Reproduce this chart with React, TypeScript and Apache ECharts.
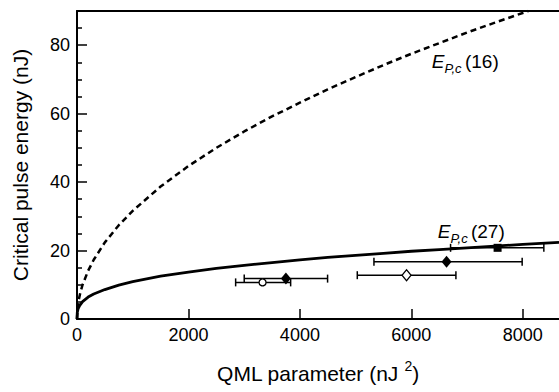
import React, { useEffect, useRef } from "react";
import * as echarts from "echarts";

const xTicks = [0, 2000, 4000, 6000, 8000];
const yTicks = [0, 20, 40, 60, 80];
const yMinorTicks = [5, 10, 15, 25, 30, 35, 45, 50, 55, 65, 70, 75, 85];

// E_P,c (16) dashed curve
const dashedX = [0, 10, 30, 60, 100, 200, 300, 500, 750, 1000, 1500, 2000, 2500, 3000, 3500, 4000, 4500, 5000, 5500, 6000, 6500, 7000, 7500, 8100];
const dashedY = [0, 3.2, 5.5, 7.7, 10, 14.1, 17.3, 22.4, 27.4, 31.6, 38.7, 44.7, 50, 54.8, 59.2, 63.2, 67.1, 70.7, 74.2, 77.5, 80.6, 83.7, 86.6, 90];

// E_P,c (27) solid curve
const solidX = [0, 5, 20, 50, 100, 200, 300, 500, 750, 1000, 1500, 2000, 2500, 3000, 3500, 4000, 4500, 5000, 5500, 6000, 6500, 7000, 7500, 8000, 8650];
const solidY = [0, 1.9, 3.0, 4.0, 5.1, 6.4, 7.3, 8.6, 9.9, 10.9, 12.5, 13.7, 14.8, 15.7, 16.5, 17.3, 18.0, 18.6, 19.2, 19.8, 20.3, 20.8, 21.3, 21.8, 22.4];

// measured points
const filledDiamondX = [3749, 6632];
const filledDiamondY = [11.8, 16.7];
const filledDiamondLo = [3001, 5329];
const filledDiamondHi = [4497, 7989];

const openCircleX = [3330];
const openCircleY = [10.7];
const openCircleLo = [2847];
const openCircleHi = [3834];

const openDiamondX = [5914];
const openDiamondY = [12.8];
const openDiamondLo = [5030];
const openDiamondHi = [6800];

const squareX = [7548];
const squareY = [20.8];
const squareLo = [6704];
const squareHi = [8378];

const labelPos16 = [6368, 75.2];
const labelPos27 = [6476, 25.5];

const FONT = "Liberation Sans, Arial, Helvetica, sans-serif";

export default function App() {
  const ref = useRef<HTMLDivElement>(null);
  useEffect(() => {
    if (!ref.current) return;
    const chart = echarts.init(ref.current, undefined, { renderer: "svg" });
    const zip = (a: number[], b: number[]) => a.map((v, i) => [v, b[i]]);
    const errData = [
      ...filledDiamondX.map((x, i) => [x, filledDiamondY[i], filledDiamondLo[i], filledDiamondHi[i]]),
      ...openCircleX.map((x, i) => [x, openCircleY[i], openCircleLo[i], openCircleHi[i]]),
      ...openDiamondX.map((x, i) => [x, openDiamondY[i], openDiamondLo[i], openDiamondHi[i]]),
      ...squareX.map((x, i) => [x, squareY[i], squareLo[i], squareHi[i]]),
    ];
    const richLabel = {
      e: { fontFamily: FONT, fontSize: 19, fontStyle: "italic", color: "#000", verticalAlign: "middle", lineHeight: 26 },
      s: { fontFamily: FONT, fontSize: 13, fontStyle: "italic", color: "#000", verticalAlign: "bottom", lineHeight: 26 },
      n: { fontFamily: FONT, fontSize: 19, color: "#000", verticalAlign: "middle", lineHeight: 26 },
    };
    const option: any = {
      animation: false,
      textStyle: { fontFamily: FONT, color: "#000" },
      grid: { left: 77, top: 11, right: 0, bottom: 71 },
      xAxis: [
        {
          type: "value",
          min: 0,
          max: 8650,
          interval: 2000,
          position: "bottom",
          axisLine: { show: true, onZero: false, lineStyle: { color: "#000", width: 2 } },
          axisTick: { show: true, inside: true, length: 10, customValues: xTicks, lineStyle: { color: "#000", width: 1.5 } },
          axisLabel: {
            customValues: xTicks,
            formatter: (v: number) => String(v),
            color: "#000",
            fontSize: 18,
            margin: 7,
            fontFamily: FONT,
          },
          splitLine: { show: false },
          name: "QML parameter (nJ {sup|2})",
          nameLocation: "middle",
          nameGap: 40,
          nameTextStyle: {
            fontFamily: FONT,
            fontSize: 21,
            color: "#000",
            lineHeight: 28,
            rich: {
              sup: { fontFamily: FONT, fontSize: 14, color: "#000", verticalAlign: "top", lineHeight: 28 },
            },
          },
        },
        {
          type: "value",
          min: 0,
          max: 8650,
          position: "top",
          axisLine: { show: true, onZero: false, lineStyle: { color: "#000", width: 2 } },
          axisTick: { show: false },
          axisLabel: { show: false },
          splitLine: { show: false },
        },
      ],
      yAxis: [
        {
          type: "value",
          min: 0,
          max: 90,
          interval: 20,
          position: "left",
          axisLine: { show: true, onZero: false, lineStyle: { color: "#000", width: 2 } },
          axisTick: { show: true, inside: true, length: 10, customValues: yTicks, lineStyle: { color: "#000", width: 1.5 } },
          axisLabel: {
            customValues: yTicks,
            formatter: (v: number) => String(v),
            color: "#000",
            fontSize: 18,
            margin: 7,
            fontFamily: FONT,
          },
          splitLine: { show: false },
          name: "Critical pulse energy (nJ)",
          nameLocation: "middle",
          nameGap: 46,
          nameTextStyle: { fontFamily: FONT, fontSize: 21, color: "#000" },
        },
        {
          type: "value",
          min: 0,
          max: 90,
          position: "left",
          axisLine: { show: false, onZero: false },
          axisTick: { show: true, inside: true, length: 5, customValues: yMinorTicks, lineStyle: { color: "#000", width: 1.5 } },
          axisLabel: { show: false },
          splitLine: { show: false },
        },
      ],
      series: [
        {
          type: "line",
          data: zip(dashedX, dashedY),
          showSymbol: false,
          smooth: false,
          lineStyle: { color: "#000", width: 2.5, type: [6, 4] },
          silent: true,
        },
        {
          type: "line",
          data: zip(solidX, solidY),
          showSymbol: false,
          smooth: false,
          lineStyle: { color: "#000", width: 2.8 },
          silent: true,
        },
        {
          type: "custom",
          data: errData,
          encode: { x: [0, 2, 3], y: 1 },
          renderItem: (params: any, api: any) => {
            const y = api.value(1);
            const lo = api.coord([api.value(2), y]);
            const hi = api.coord([api.value(3), y]);
            const h = 4;
            const st = { stroke: "#000", lineWidth: 1.5 };
            return {
              type: "group",
              children: [
                { type: "line", shape: { x1: lo[0], y1: lo[1], x2: hi[0], y2: hi[1] }, style: st },
                { type: "line", shape: { x1: lo[0], y1: lo[1] - h, x2: lo[0], y2: lo[1] + h }, style: st },
                { type: "line", shape: { x1: hi[0], y1: hi[1] - h, x2: hi[0], y2: hi[1] + h }, style: st },
              ],
            };
          },
          silent: true,
        },
        {
          type: "scatter",
          data: zip(filledDiamondX, filledDiamondY),
          symbol: "diamond",
          symbolSize: [10, 12],
          itemStyle: { color: "#000", opacity: 1 },
          silent: true,
        },
        {
          type: "scatter",
          data: zip(openCircleX, openCircleY),
          symbol: "circle",
          symbolSize: 7,
          itemStyle: { color: "#fff", borderColor: "#000", borderWidth: 1.3, opacity: 1 },
          silent: true,
        },
        {
          type: "scatter",
          data: zip(openDiamondX, openDiamondY),
          symbol: "diamond",
          symbolSize: [9, 11],
          itemStyle: { color: "#fff", borderColor: "#000", borderWidth: 1.3, opacity: 1 },
          silent: true,
        },
        {
          type: "scatter",
          data: zip(squareX, squareY),
          symbol: "rect",
          symbolSize: 8,
          itemStyle: { color: "#000", opacity: 1 },
          silent: true,
        },
        {
          type: "scatter",
          data: [
            { value: labelPos16, name: "16" },
            { value: labelPos27, name: "27" },
          ],
          symbolSize: 0,
          silent: true,
          itemStyle: { opacity: 1 },
          label: {
            show: true,
            position: "right",
            distance: 0,
            color: "#000",
            opacity: 1,
            textBorderWidth: 0,
            formatter: (p: any) => `{e|E}{s|P,c} {n|(${p.name})}`,
            rich: richLabel,
          },
        },
      ],
    };
    chart.setOption(option);
    return () => chart.dispose();
  }, []);
  return (
    <div
      ref={ref}
      style={{ position: "fixed", left: 0, top: 0, width: 559, height: 392, background: "#fff" }}
    />
  );
}
